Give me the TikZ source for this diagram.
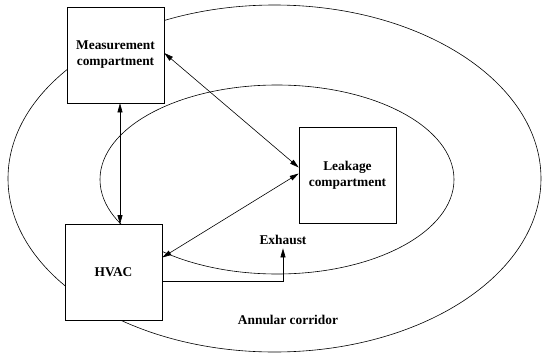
\documentclass[tikz,border=0pt]{standalone}
\usepackage{fontspec}
\setmainfont{Liberation Serif}
\usetikzlibrary{arrows.meta}

\tikzset{
  room/.style={draw,fill=white,minimum width=97pt,minimum height=96pt,align=center,
    font=\fontsize{13.4}{16}\selectfont\bfseries},
  lbl/.style={font=\fontsize{13.4}{16}\selectfont\bfseries},
  flow/.style={line width=0.6pt,-{Triangle[length=9pt,width=5pt]}},
  twoway/.style={line width=0.6pt,{Triangle[length=9pt,width=5pt]}-{Triangle[length=9pt,width=5pt]}}
}

\begin{document}
\begin{tikzpicture}[x=1pt,y=-1pt,line width=0.6pt]
  \useasboundingbox (0,0) rectangle (542,354);
  % corridor and inner zone
  \draw (274.5,178.5) ellipse [x radius=266.5,y radius=173.5];
  \draw (277,179.5) ellipse [x radius=177,y radius=94.5];

  \node[room] (meas) at (115.5,55) {Measurement\\compartment};
  \node[room] (hvac) at (113.5,272.5) {HVAC};
  \node[room] (leak) at (347.5,175.5) {Leakage\\compartment};
  \node[lbl] (exhaust) at (283,240) {Exhaust};
  \node[lbl] (corridor) at (288,320) {Annular corridor};

  \draw[twoway] ([xshift=4.5pt]meas.south) -- ([xshift=4.5pt]meas.south |- hvac.north);
  \draw[twoway] ([yshift=2pt]meas.east) -- ([yshift=8pt]leak.west);
  \draw[twoway] ([yshift=2pt]leak.west) -- ([yshift=15pt]hvac.east);
  \draw[flow] ([yshift=-9pt]hvac.east) -| (exhaust.south);
\end{tikzpicture}
\end{document}
